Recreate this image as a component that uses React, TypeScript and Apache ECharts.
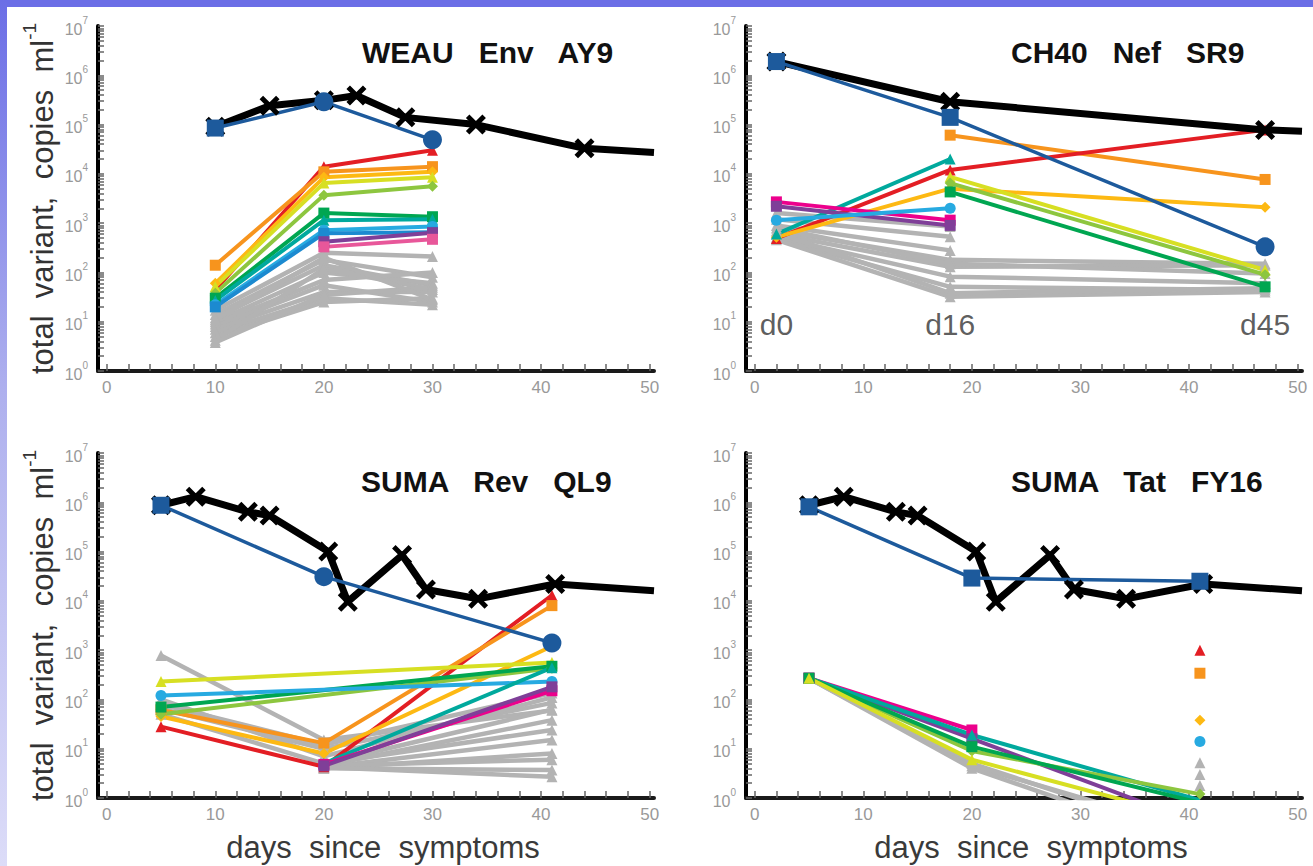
import { useEffect, useRef } from 'react';
import * as echarts from 'echarts';

const FONT = '"Liberation Sans", Arial, Helvetica, sans-serif';

// shared axis labels
const xTickValues = [0, 10, 20, 30, 40, 50];
const yDecadeValues = [1, 10, 100, 1e3, 1e4, 1e5, 1e6, 1e7];

const panelTitles = ['WEAU   Env   AY9', 'CH40   Nef   SR9', 'SUMA   Rev   QL9', 'SUMA   Tat   FY16'];

// ---- WEAU Env AY9 ----
const weauDays = [10, 20, 30];
const weauLoadDays = [10, 15, 20, 23, 27.5, 34, 44, 50.4];
const weauLoad = [9e4, 2.4e5, 3.1e5, 3.9e5, 1.4e5, 1.0e5, 3.3e4, 2.7e4];
const weauEpitope = [8.5e4, 2.9e5, 4.9e4];
const weauVariantKeys = ['red', 'orange', 'gold', 'yellow', 'lime', 'green', 'teal', 'cyan', 'blue', 'purple', 'pink'];
const weauVariants = [
  [44, 1.4e4, 3.0e4],
  [140, 1.1e4, 1.4e4],
  [60, 8.5e3, 1.1e4],
  [52, 6.5e3, 8.5e3],
  [38, 3.7e3, 5.6e3],
  [30, 1.6e3, 1.35e3],
  [27, 1.15e3, 1.2e3],
  [22, 720, 850],
  [20, 620, 650],
  [null, 420, 640],
  [null, 330, 470],
];
const weauOthers = [
  [17, 250, 210],
  [14, 180, 80],
  [12, 140, 55],
  [10, 100, 60],
  [9, 70, 100],
  [8, 55, 25],
  [7, 40, 40],
  [6, 30, 22],
  [5, 25, 30],
  [4.2, 120, 45],
  [3.8, 35, 50],
  [11, 200, 28],
];

// ---- CH40 Nef SR9 ----
const ch40Days = [2, 18, 47];
const ch40DayTags = ['d0', 'd16', 'd45'];
const ch40LoadDays = [2, 18, 47, 50.4];
const ch40Load = [1.9e6, 2.9e5, 7.8e4, 7.3e4];
const ch40Epitope = [1.9e6, 1.4e5, 330];
const ch40VariantKeys = ['orange', 'red', 'gold', 'yellow', 'lime', 'green', 'teal', 'magenta', 'purple', 'cyan'];
const ch40Variants = [
  [null, 6.1e4, 7.7e3],
  [490, 1.2e4, 7.8e4],
  [520, 5.0e3, 2.1e3],
  [null, 8.7e3, 112],
  [null, 6.5e3, 90],
  [null, 4.3e3, 51],
  [600, 2.0e4, null],
  [2.7e3, 1.15e3, null],
  [2.2e3, 900, null],
  [1.15e3, 2.0e3, null],
];
const ch40Others = [
  [1.6e3, 850, null],
  [1.2e3, 530, null],
  [900, 280, null],
  [700, 180, 150],
  [600, 130, 140],
  [520, 82, 60],
  [480, 51, 44],
  [460, 32, 40],
  [800, 150, 95],
  [650, 38, 48],
];

// ---- SUMA (viral load shared by Rev QL9 and Tat FY16) ----
const sumaDays = [5, 20, 41];
const sumaLoadDays = [5, 8.2, 13, 15, 20.4, 22.2, 27.2, 29.4, 34.2, 41.3, 50.4];
const sumaLoad = [8.7e5, 1.3e6, 6.4e5, 5.4e5, 1.0e5, 9.6e3, 8.5e4, 1.7e4, 1.1e4, 2.2e4, 1.6e4];

// SUMA Rev QL9
const revEpitope = [8.7e5, 3.1e4, 1.4e3];
const revVariantKeys = ['red', 'orange', 'gold', 'yellow', 'lime', 'green', 'cyan', 'teal', 'magenta', 'purple'];
const revVariants = [
  [28, 4.3, 1.3e4],
  [61, 13, 8.0e3],
  [45, 8, 1.2e3],
  [230, null, 560],
  [50, null, 430],
  [70, null, 470],
  [120, null, 230],
  [null, 5, 440],
  [null, 4.8, 150],
  [null, 4.5, 180],
];
const revOthers = [
  [780, 15, 60],
  [80, 12, 135],
  [65, 10, 85],
  [50, 5, 62],
  [100, 7, 110],
  [null, 4.5, 38],
  [null, 5, 24],
  [null, 4.2, 15],
  [null, 4, 8],
  [null, 4.5, 6],
  [null, 4, 3.7],
  [null, 4.2, 2.7],
];

// SUMA Tat FY16
const tatEpitope = [8.1e5, 2.9e4, 2.5e4];
const tatVariantKeys = ['magenta', 'purple', 'teal', 'lime', 'green', 'yellow', 'red', 'orange', 'gold', 'cyan'];
const tatVariants = [
  [270, 24, null],
  [270, 16, 0.3],
  [270, 19, 0.9],
  [270, 9, 1.2],
  [270, 11, 0.8],
  [270, 6, 0.35],
  [null, null, 1.0e3],
  [null, null, 340],
  [null, null, 38],
  [null, null, 14],
];
const tatOthers = [
  [270, 5, 0.15],
  [270, 4.5, 0.2],
  [270, 4, 0.1],
  [null, null, 5.2],
  [null, null, 3],
  [null, null, 1.8],
];

const VARIANT_STYLE: Record<string, { color: string; symbol: string }> = {
  red: { color: '#e31e24', symbol: 'triangle' },
  orange: { color: '#f7941d', symbol: 'rect' },
  gold: { color: '#fdb913', symbol: 'diamond' },
  yellow: { color: '#d7df23', symbol: 'triangle' },
  lime: { color: '#8dc63f', symbol: 'diamond' },
  green: { color: '#00a651', symbol: 'rect' },
  teal: { color: '#00a99d', symbol: 'triangle' },
  cyan: { color: '#27aae1', symbol: 'circle' },
  blue: { color: '#1c8ad0', symbol: 'rect' },
  purple: { color: '#7f3f98', symbol: 'rect' },
  magenta: { color: '#ec008c', symbol: 'rect' },
  pink: { color: '#e8579a', symbol: 'rect' },
};
const OTHER_COLOR = '#b3b3b3';
const LOAD_COLOR = '#000000';
const EPITOPE_COLOR = '#1d5a9c';
const CROSS = 'path://M3.5,0L10,6.5L16.5,0L20,3.5L13.5,10L20,16.5L16.5,20L10,13.5L3.5,20L0,16.5L6.5,10L0,3.5Z';

const EPITOPE_MARKS = [
  ['rect', 'circle', 'circle'],
  ['rect', 'rect', 'circle'],
  ['rect', 'circle', 'circle'],
  ['rect', 'rect', 'rect'],
];

const GRIDS = [
  { left: 98, top: 26, width: 556, height: 345 },
  { left: 746, top: 26, width: 556, height: 345 },
  { left: 98, top: 453, width: 556, height: 345 },
  { left: 746, top: 453, width: 556, height: 345 },
];
const TITLE_POS = [
  { left: 362, top: 37 },
  { left: 1011, top: 37 },
  { left: 361, top: 466 },
  { left: 1011, top: 466 },
];

function pairs(days: number[], values: (number | null)[]) {
  const out: number[][] = [];
  days.forEach((d, i) => {
    const v = values[i];
    if (v != null) out.push([d, v]);
  });
  return out;
}

function traceLine(p: number, data: any[], color: string, symbol: string, size: number, width: number) {
  return {
    type: 'line',
    xAxisIndex: p,
    yAxisIndex: p,
    data,
    symbol,
    symbolSize: size,
    showSymbol: true,
    clip: true,
    silent: true,
    lineStyle: { color, width, join: 'round' },
    itemStyle: { color },
    emphasis: { disabled: true },
  };
}

function panelSeries(
  p: number,
  days: number[],
  loadDays: number[],
  load: number[],
  epitope: number[],
  keys: string[],
  variants: (number | null)[][],
  others: (number | null)[][],
) {
  const list: any[] = [];
  others.forEach((vals) => list.push(traceLine(p, pairs(days, vals), OTHER_COLOR, 'triangle', 11, 4.5)));
  keys.forEach((k, i) => {
    const st = VARIANT_STYLE[k];
    list.push(traceLine(p, pairs(days, variants[i]), st.color, st.symbol, 11, 4));
  });
  const loadData = loadDays.map((d, i) =>
    i === loadDays.length - 1 ? { value: [d, load[i]], symbol: 'none' } : [d, load[i]],
  );
  list.push(traceLine(p, loadData, LOAD_COLOR, CROSS, 20, 7));
  const epiData = days.map((d, i) => ({
    value: [d, epitope[i]],
    symbol: EPITOPE_MARKS[p][i],
    symbolSize: EPITOPE_MARKS[p][i] === 'rect' ? 17 : 19,
  }));
  list.push(traceLine(p, epiData, EPITOPE_COLOR, 'rect', 17, 3.5));
  return list;
}

const yMinorTicks: number[] = [];
for (let k = 0; k < 7; k++) {
  for (let m = 1; m < 10; m++) yMinorTicks.push(m * Math.pow(10, k));
}
yMinorTicks.push(1e7);
const xMinorTicks: number[] = [];
for (let t = 0; t <= 50; t += 2) xMinorTicks.push(t);

export default function App() {
  const ref = useRef<HTMLDivElement>(null);

  useEffect(() => {
    if (!ref.current) return;
    const chart = echarts.init(ref.current, undefined, { renderer: 'svg' });

    const xAxes = GRIDS.map((_, i) => ({
      gridIndex: i,
      type: 'value',
      min: -0.8,
      max: 50.4,
      axisLine: { show: true, onZero: false, lineStyle: { color: '#1a1a1a', width: 4 } },
      axisTick: {
        show: true,
        inside: true,
        length: 7,
        customValues: xMinorTicks,
        lineStyle: { color: '#666', width: 1.5 },
      },
      axisLabel: {
        customValues: xTickValues,
        color: '#999',
        fontSize: 17,
        margin: 8,
        fontFamily: FONT,
      },
      splitLine: { show: false },
      name: i >= 2 ? 'days  since  symptoms' : '',
      nameLocation: 'middle',
      nameGap: 34,
      nameTextStyle: { fontSize: 31, color: '#3a3a3a', fontFamily: FONT, padding: [0, 0, 0, 14] },
    }));

    const yAxes = GRIDS.map((_, i) => ({
      gridIndex: i,
      type: 'log',
      logBase: 10,
      min: 1,
      max: 1e7,
      axisLine: { show: true, onZero: false, lineStyle: { color: '#000', width: 4 } },
      axisTick: {
        show: true,
        inside: true,
        length: 6,
        customValues: yMinorTicks,
        lineStyle: { color: '#666', width: 1.5 },
      },
      axisLabel: {
        customValues: yDecadeValues,
        margin: 10,
        formatter: (v: number) => `{b|10}{s|${Math.round(Math.log10(v))}}`,
        rich: {
          b: { fontSize: 16, color: '#999', fontFamily: FONT, lineHeight: 22, verticalAlign: 'bottom' },
          s: { fontSize: 10, color: '#999', fontFamily: FONT, verticalAlign: 'top' },
        },
      },
      splitLine: { show: false },
      minorTick: { show: false },
      name: i % 2 === 0 ? '{t|total  variant,  copies  ml}{s|-1}' : '',
      nameLocation: 'middle',
      nameRotate: 90,
      nameGap: 40,
      nameTextStyle: {
        rich: {
          t: { fontSize: 31, color: '#333', fontFamily: FONT, lineHeight: 38, verticalAlign: 'bottom' },
          s: { fontSize: 19, color: '#333', fontFamily: FONT, verticalAlign: 'top' },
        },
      },
    }));

    const series: any[] = [
      ...panelSeries(0, weauDays, weauLoadDays, weauLoad, weauEpitope, weauVariantKeys, weauVariants, weauOthers),
      ...panelSeries(1, ch40Days, ch40LoadDays, ch40Load, ch40Epitope, ch40VariantKeys, ch40Variants, ch40Others),
      ...panelSeries(2, sumaDays, sumaLoadDays, sumaLoad, revEpitope, revVariantKeys, revVariants, revOthers),
      ...panelSeries(3, sumaDays, sumaLoadDays, sumaLoad, tatEpitope, tatVariantKeys, tatVariants, tatOthers),
    ];

    // sampling-day tags under the CH40 panel
    const dayTagLevel = 8.6;
    series.push({
      type: 'scatter',
      xAxisIndex: 1,
      yAxisIndex: 1,
      silent: true,
      symbolSize: 1,
      itemStyle: { color: 'rgba(0,0,0,0)' },
      data: ch40Days.map((d, i) => ({ value: [d, dayTagLevel], label: { formatter: ch40DayTags[i] } })),
      label: { show: true, position: 'inside', fontSize: 30, color: '#333', fontFamily: FONT },
    });

    chart.setOption({
      animation: false,
      backgroundColor: '#ffffff',
      grid: GRIDS,
      xAxis: xAxes,
      yAxis: yAxes,
      title: panelTitles.map((t, i) => ({
        text: t,
        left: TITLE_POS[i].left,
        top: TITLE_POS[i].top,
        padding: 0,
        textStyle: { fontSize: 30, fontWeight: 'bold', color: '#111', fontFamily: FONT },
      })),
      graphic: [
        {
          type: 'rect',
          shape: { x: 0, y: 0, width: 1313, height: 7 },
          style: { fill: '#6b6ee6' },
          silent: true,
        },
        {
          type: 'rect',
          shape: { x: 0, y: 0, width: 7, height: 866 },
          style: {
            fill: new echarts.graphic.LinearGradient(0, 0, 0, 1, [
              { offset: 0, color: '#6b6ee6' },
              { offset: 0.45, color: '#aeb0ee' },
              { offset: 1, color: '#dcdcf8' },
            ]),
          },
          silent: true,
        },
      ],
      series,
    });

    return () => chart.dispose();
  }, []);

  return (
    <div
      ref={ref}
      style={{ position: 'absolute', left: 0, top: 0, width: 1313, height: 866, background: '#fff' }}
    />
  );
}
